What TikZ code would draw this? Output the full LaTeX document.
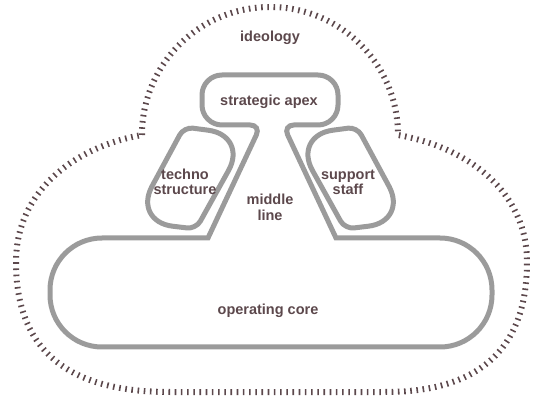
\documentclass[tikz,border=0pt]{standalone}
\usepackage{fontspec}
\setmainfont{Liberation Sans}
\definecolor{partgray}{RGB}{155,155,155}
\definecolor{inkbrown}{RGB}{92,72,76}

\begin{document}
\begin{tikzpicture}[x=1pt, y=1pt,
  part/.style = {draw=partgray, line width=5pt},
  idea/.style = {draw=inkbrown, line width=6pt, dash pattern=on 1.6pt off 4.6pt},
  txt/.style  = {text=inkbrown, font=\bfseries\fontsize{14.5}{15.5}\selectfont, align=center}]
\useasboundingbox (0,0) rectangle (560,402);

% ideology
\draw[idea] (142,267) arc[start angle=180, end angle=0, radius=128]
  to[out=-10, in=90] (527,140) to[out=-90, in=0, looseness=1.2] (385,10) -- (170,10)
  to[out=180, in=-90, looseness=1.2] (16,140) to[out=90, in=190] (142,267);

% apex, middle line and core
\draw[part] (120,164) -- (208,164) [rounded corners=11pt] -- (261,277)
  [rounded corners=20pt] -- (202,277) -- (202,327) -- (338,327) -- (338,277)
  [rounded corners=11pt] -- (283,277) [sharp corners] -- (336,164)
  [rounded corners=52pt] -- (492,164) -- (492,55) -- (50,55) -- (50,164)
  [sharp corners] -- cycle;

% technostructure and support staff
\draw[part] (158.5,227.75) [rounded corners=9pt] -- (184,275)
  [rounded corners=40pt] -- (248,266.5) [rounded corners=9pt] -- (196,173)
  [rounded corners=40pt] -- (133,180.5) [sharp corners] -- cycle;
\draw[part] (382.5,227.75) [rounded corners=9pt] -- (357,275)
  [rounded corners=40pt] -- (293,266.5) [rounded corners=9pt] -- (345,173)
  [rounded corners=40pt] -- (408,180.5) [sharp corners] -- cycle;

\node[txt] (ideo)   at (270,364)   {ideology};
\node[txt] (apex)   at (269,300)   {strategic apex};
\node[txt] (techno) at (185,220)   {techno\\structure};
\node[txt] (staff)  at (348,219.5) {support\\staff};
\node[txt] (mline)  at (270,194.5) {middle\\line};
\node[txt] (core)   at (268,91.5)  {operating core};
\end{tikzpicture}
\end{document}
